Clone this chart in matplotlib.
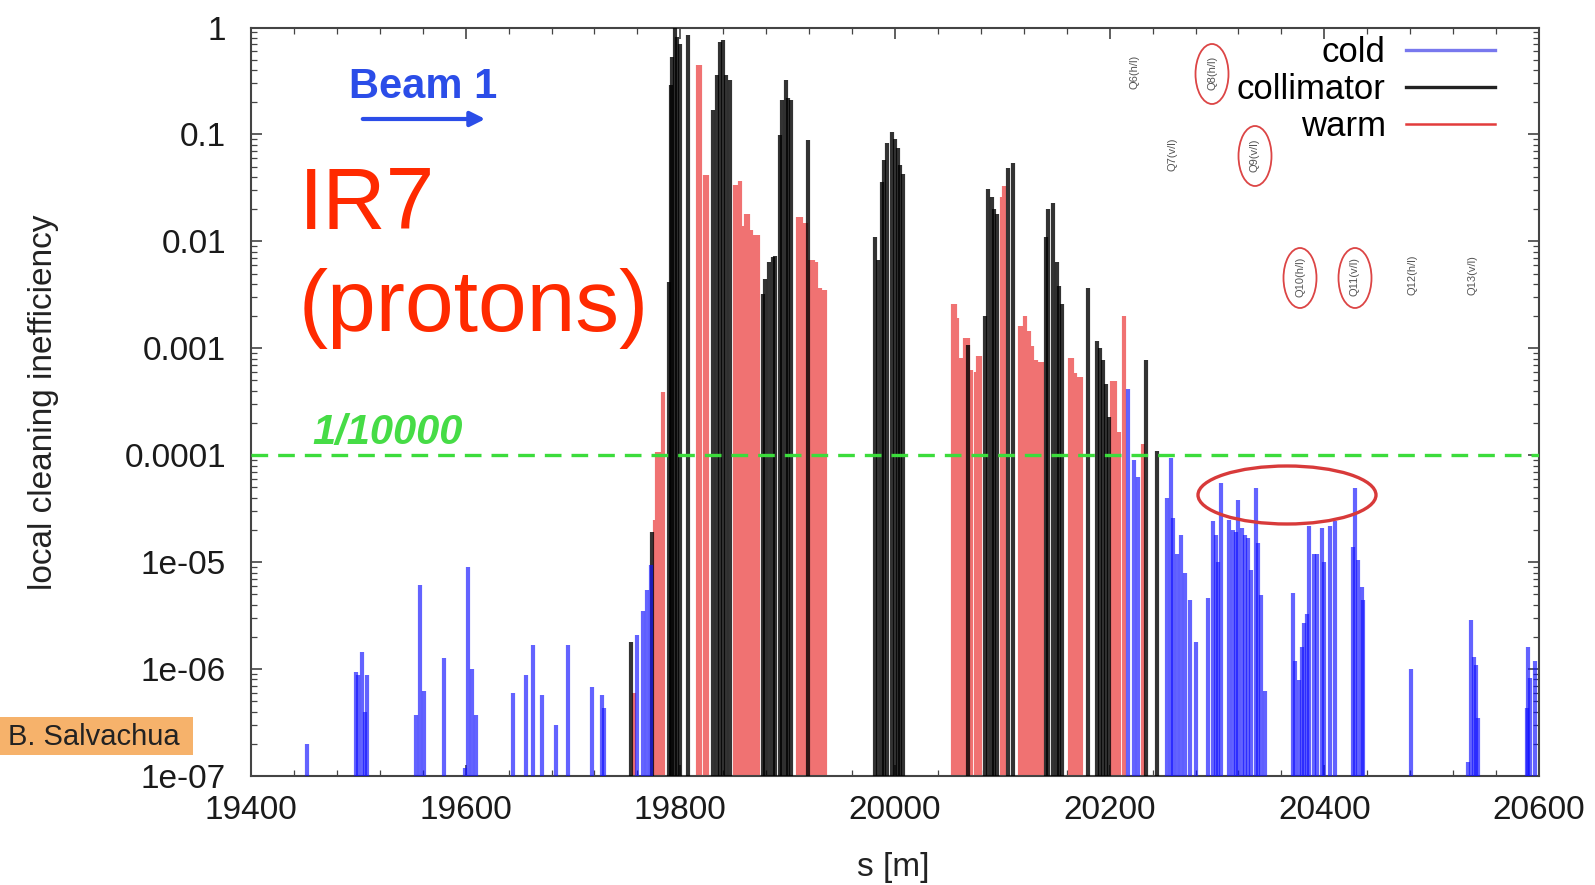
import matplotlib
matplotlib.use('Agg')
import matplotlib.pyplot as plt
from matplotlib.patches import Ellipse, Rectangle
from matplotlib.lines import Line2D
from matplotlib.ticker import MultipleLocator, LogLocator, NullFormatter

plt.rcParams['font.family'] = ['Liberation Sans', 'DejaVu Sans']

# loss map, beam 1, IR7
cold_s = [19452, 19498, 19500, 19503, 19506, 19508, 19554, 19557, 19561, 19580,
          19599, 19602, 19606, 19610, 19644, 19656, 19663, 19671, 19684, 19695,
          19718, 19727, 19729, 19760, 19765, 19769, 19773, 20217, 20223, 20226,
          20253, 20257, 20259, 20263, 20266, 20270, 20275, 20280, 20292, 20296,
          20299, 20301, 20304, 20311, 20315, 20318, 20320, 20323, 20326, 20329,
          20332, 20336, 20338, 20341, 20345, 20371, 20373, 20376, 20379, 20381,
          20384, 20386, 20390, 20393, 20398, 20400, 20405, 20410, 20427, 20429,
          20431, 20435, 20436, 20481, 20534, 20537, 20539, 20541, 20543, 20589,
          20590, 20592, 20596]
cold_v = [2.0e-7, 9.3e-7, 8.8e-7, 1.45e-6, 4e-7, 8.8e-7, 3.7e-7, 6.1e-6, 6.3e-7, 1.26e-6,
          1.2e-7, 9e-6, 1.0e-6, 3.7e-7, 6e-7, 8.8e-7, 1.67e-6, 5.7e-7, 3e-7, 1.67e-6,
          6.8e-7, 5.7e-7, 4.3e-7, 2.1e-6, 3.5e-6, 5.5e-6, 9.4e-6, 4.2e-4, 9e-5, 6.3e-5,
          4e-5, 9.4e-5, 2.6e-5, 1.2e-5, 1.8e-5, 8e-6, 4.4e-6, 1.8e-6, 4.6e-6, 2.4e-5,
          1.8e-5, 1e-5, 5.5e-5, 2.5e-5, 2e-5, 1.9e-5, 3.8e-5, 2.1e-5, 1.8e-5, 1.7e-5,
          8.5e-6, 4.9e-5, 1.5e-5, 4.9e-6, 6.3e-7, 5.2e-6, 1.2e-6, 7.9e-7, 1.6e-6, 2.7e-6,
          3.3e-6, 2.2e-5, 1.2e-5, 1.2e-5, 2.1e-5, 1e-5, 2.2e-5, 2.4e-5, 1.4e-5, 4.9e-5,
          1.05e-5, 5.9e-6, 4.4e-6, 1e-6, 1.35e-7, 2.9e-6, 1.3e-6, 1.1e-6, 3.5e-7, 4.3e-7,
          1.6e-6, 8.2e-7, 1.2e-6]

coll_s = [19754, 19774, 19789, 19791, 19792, 19795, 19797, 19800, 19807, 19830,
          19834, 19837, 19840, 19843, 19846, 19877, 19879, 19883, 19886, 19888,
          19893, 19895, 19898, 19900, 19903, 19919, 19981, 19984, 19988, 19990,
          19993, 19997, 20000, 20003, 20005, 20007, 20068, 20084, 20087, 20090,
          20092, 20095, 20105, 20110, 20141, 20143, 20147, 20151, 20153, 20156,
          20180, 20188, 20191, 20194, 20197, 20199, 20234, 20244]
coll_v = [1.8e-6, 1.9e-5, 4.2e-3, 0.29, 0.53, 1.0, 0.81, 0.7, 0.85, 0.17,
          0.36, 0.73, 0.76, 0.36, 0.32, 3.2e-3, 4.4e-3, 6.4e-3, 7.1e-3, 7.3e-3,
          0.099, 0.21, 0.32, 0.22, 0.21, 0.089, 0.011, 6.7e-3, 0.036, 0.058,
          0.083, 0.105, 0.091, 0.075, 0.052, 0.043, 1.07e-3, 2e-3, 0.031, 0.026,
          0.020, 0.018, 0.049, 0.054, 0.011, 0.020, 0.023, 6.4e-3, 3.8e-3, 2.6e-3,
          3.7e-3, 1.17e-3, 1.0e-3, 7.8e-4, 4.6e-4, 2.3e-4, 7.8e-4, 1.1e-4]

warm_s = [19757, 19776, 19778, 19781, 19784, 19816, 19818, 19823, 19825, 19851,
          19854, 19856, 19858, 19861, 19863, 19866, 19869, 19872, 19910, 19912,
          19914, 19917, 19921, 19924, 19926, 19928, 19930, 19933, 19935, 20054,
          20056, 20058, 20061, 20062, 20065, 20068, 20071, 20075, 20077, 20079,
          20100, 20102, 20116, 20119, 20121, 20125, 20128, 20131, 20134, 20137,
          20163, 20165, 20168, 20171, 20173, 20202, 20205, 20207, 20209, 20213,
          20231]
warm_v = [6e-7, 2.5e-5, 1.07e-4, 1.07e-4, 3.9e-4, 0.45, 0.45, 0.042, 0.042, 0.034,
          0.034, 0.037, 0.014, 0.018, 0.018, 0.0127, 0.0114, 0.0114, 0.017, 0.017,
          0.015, 0.015, 6.7e-3, 6.7e-3, 6.4e-3, 3.7e-3, 3.7e-3, 3.5e-3, 3.5e-3, 2.6e-3,
          2.6e-3, 1.9e-3, 8.1e-4, 8.1e-4, 1.26e-3, 1.26e-3, 6.2e-4, 6.0e-4, 8.5e-4, 8.5e-4,
          0.026, 0.033, 1.6e-3, 1.6e-3, 2.0e-3, 1.45e-3, 1.05e-3, 7.8e-4, 7.4e-4, 7.4e-4,
          8.1e-4, 8.1e-4, 5.9e-4, 5.4e-4, 5.4e-4, 4.9e-4, 4.9e-4, 1.66e-4, 1.66e-4, 2e-3,
          1.27e-4]

xticks = [19400, 19600, 19800, 20000, 20200, 20400, 20600]
yticks = [1e-7, 1e-6, 1e-5, 1e-4, 1e-3, 1e-2, 1e-1, 1]
ylabels = ['1e-07', '1e-06', '1e-05', '0.0001', '0.001', '0.01', '0.1', '1']
limit = 1e-4

# quadrupole names along the top, (x, y) in pixels of the figure
quads = ['Q6(h/l)', 'Q8(h/l)', 'Q7(v/l)', 'Q9(v/l)', 'Q10(h/l)', 'Q11(v/l)', 'Q12(h/l)', 'Q13(v/l)']
quad_xy = [(1135, 72), (1212, 73), (1172, 154), (1255, 155), (1300, 277), (1355, 277), (1413, 275), (1472, 275)]
quad_circled = [False, True, False, True, True, True, False, False]

W, H = 1595, 885


def fx(x):
    return x / W


def fy(y):
    return 1 - y / H


fig = plt.figure(figsize=(W / 100, H / 100), dpi=100)
ax = fig.add_axes([251 / W, 1 - 776 / H, (1539 - 251) / W, (776 - 27.5) / H])
ax.set_yscale('log')
ax.set_xlim(19400, 20600)
ax.set_ylim(1e-7, 1)

base = 1e-7
ax.vlines(warm_s, base, warm_v, color='#f07272', lw=3.0, capstyle='butt', zorder=2)
ax.vlines(coll_s, base, coll_v, color='black', alpha=0.8, lw=3.0, capstyle='butt', zorder=3)
ax.vlines(cold_s, base, cold_v, color='#1010ff', alpha=0.65, lw=3.0, capstyle='butt', zorder=4)
ax.axhline(limit, color='#3cdc3c', lw=2.4, dashes=(5, 3), zorder=5)

ax.set_xticks(xticks)
ax.xaxis.set_minor_locator(MultipleLocator(40))
ax.set_yticks(yticks)
ax.set_yticklabels(ylabels)
ax.yaxis.set_minor_locator(LogLocator(base=10, subs=range(2, 10), numticks=20))
ax.yaxis.set_minor_formatter(NullFormatter())
ax.tick_params(which='both', direction='in', top=True, right=True, color='#444', labelcolor='#1a1a1a')
ax.tick_params(which='major', length=8, width=1.2, labelsize=24)
ax.tick_params(which='minor', length=4, width=0.9)
ax.tick_params(axis='y', pad=18)
ax.tick_params(axis='x', pad=14)
for sp in ax.spines.values():
    sp.set_color('#444')
    sp.set_linewidth(1.5)

ax.set_ylabel('local cleaning inefficiency', fontsize=24, color='#222')
ax.yaxis.set_label_coords(-0.149, 0.5)
ax.set_xlabel('s [m]', fontsize=24, color='#222')
ax.xaxis.set_label_coords(0.4985, -0.1015)

legend_handles = [Line2D([], [], color='#7878ee', lw=2.4),
                  Line2D([], [], color='#222222', lw=2.4),
                  Line2D([], [], color='#e23c3c', lw=1.8)]
ax.legend(legend_handles, ['cold', 'collimator', 'warm'], loc='upper right',
          bbox_to_anchor=(fx(1495), fy(36)), bbox_transform=fig.transFigure,
          frameon=False, markerfirst=False, fontsize=25, handlelength=2.55,
          handletextpad=0.6, labelspacing=0.12, borderpad=0, borderaxespad=0)

# annotations
fig.text(fx(349), fy(98), 'Beam 1', fontsize=30, fontweight='bold', color='#2b4de8', va='baseline')
ax.annotate('', xy=(fx(488), fy(119)), xytext=(fx(360), fy(119)), xycoords='figure fraction',
            textcoords='figure fraction',
            arrowprops=dict(arrowstyle='-|>', color='#2b4de8', lw=3, mutation_scale=22))
fig.text(fx(299), fy(229), 'IR7', fontsize=63, color='#ff2a00', va='baseline')
fig.text(fx(299), fy(331), '(protons)', fontsize=63, color='#ff2a00', va='baseline')
fig.text(fx(312), fy(444), '1/10000', fontsize=30, fontweight='bold', style='italic',
         color='#46dc46', va='baseline')

fig.add_artist(Rectangle((0, fy(755)), fx(193), (755 - 717) / H, transform=fig.transFigure,
                         facecolor='#f6b26b', edgecolor='none'))
fig.text(fx(8), fy(737), 'B. Salvachua', fontsize=21, color='#222', va='center')

for name, (qx, qy), circled in zip(quads, quad_xy, quad_circled):
    fig.text(fx(qx), fy(qy), name, rotation=90, fontsize=8, ha='center', va='center', color='#555')
    if circled:
        fig.add_artist(Ellipse((fx(qx), fy(qy + 1)), 33 / W, 60 / H, transform=fig.transFigure,
                               fill=False, edgecolor='#dc4545', lw=1.3))

fig.add_artist(Ellipse((fx(1287), fy(495)), 178 / W, 58 / H, transform=fig.transFigure,
                       fill=False, edgecolor='#d83a3a', lw=2.4, zorder=10))

fig.savefig('out.png', dpi=100, facecolor='white')
